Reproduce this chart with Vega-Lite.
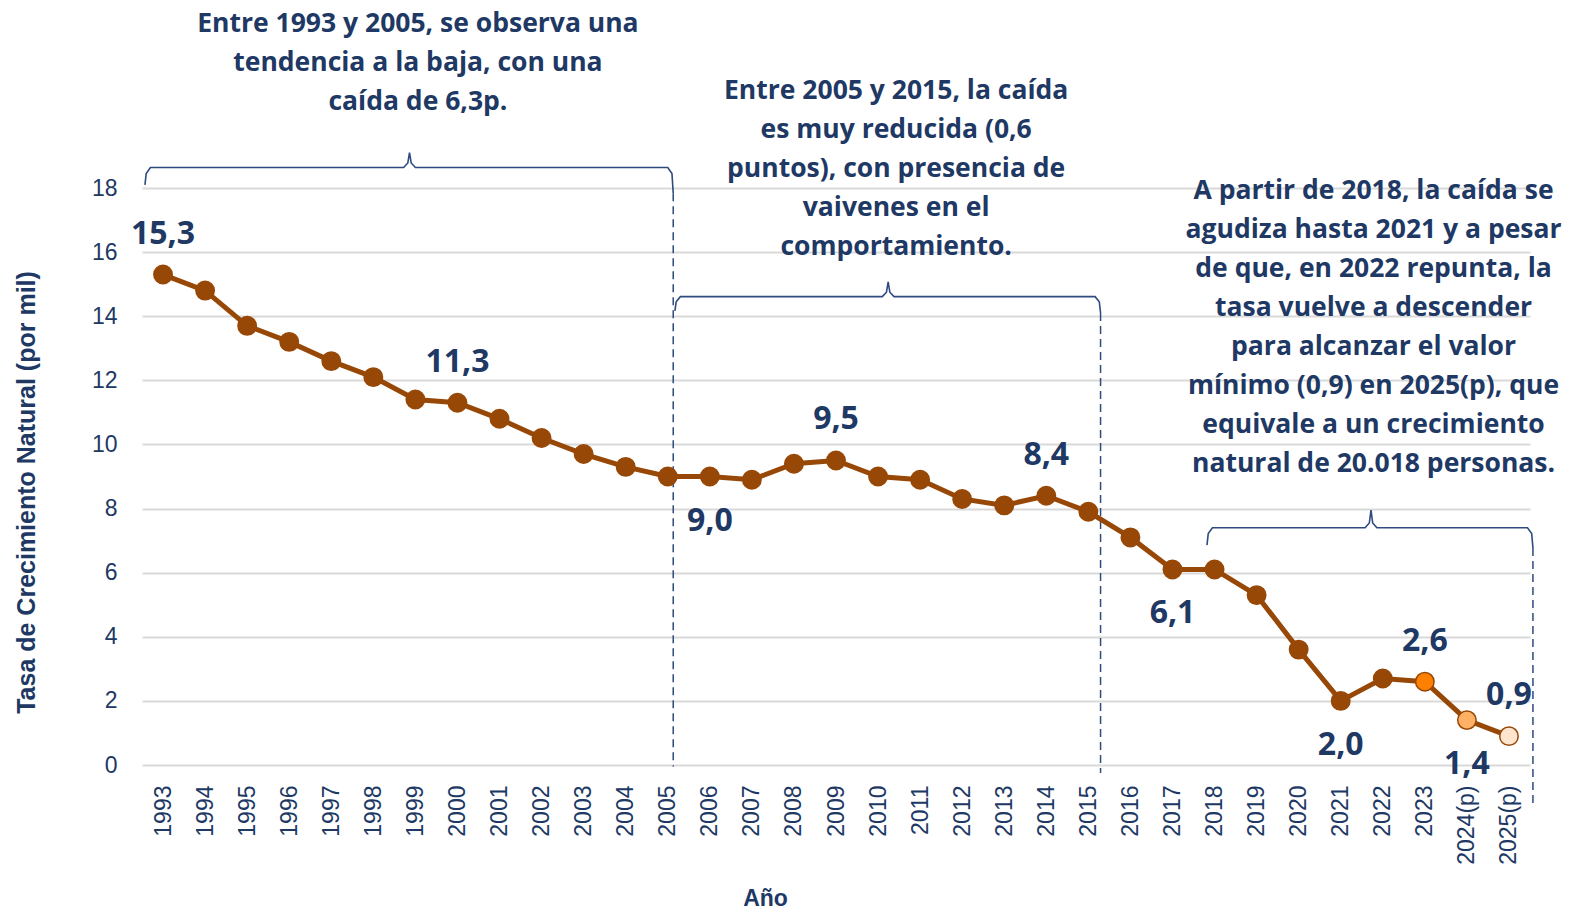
{
  "$schema": "https://vega.github.io/schema/vega-lite/v6.json",
  "width": 1388,
  "height": 577,
  "autosize": {"type": "none"},
  "padding": {"left": 142, "top": 188, "right": 40, "bottom": 146},
  "background": "white",
  "config": {
    "view": {"stroke": null},
    "locale": {"number": {"decimal": ",", "thousands": ".", "grouping": [3], "currency": ["", ""]}}
  },
  "datasets": {
    "tasa": [
      {"anio": 1993, "tasa": 15.3}, {"anio": 1994, "tasa": 14.8}, {"anio": 1995, "tasa": 13.7},
      {"anio": 1996, "tasa": 13.2}, {"anio": 1997, "tasa": 12.6}, {"anio": 1998, "tasa": 12.1},
      {"anio": 1999, "tasa": 11.4}, {"anio": 2000, "tasa": 11.3}, {"anio": 2001, "tasa": 10.8},
      {"anio": 2002, "tasa": 10.2}, {"anio": 2003, "tasa": 9.7}, {"anio": 2004, "tasa": 9.3},
      {"anio": 2005, "tasa": 9.0}, {"anio": 2006, "tasa": 9.0}, {"anio": 2007, "tasa": 8.9},
      {"anio": 2008, "tasa": 9.4}, {"anio": 2009, "tasa": 9.5}, {"anio": 2010, "tasa": 9.0},
      {"anio": 2011, "tasa": 8.9}, {"anio": 2012, "tasa": 8.3}, {"anio": 2013, "tasa": 8.1},
      {"anio": 2014, "tasa": 8.4}, {"anio": 2015, "tasa": 7.9}, {"anio": 2016, "tasa": 7.1},
      {"anio": 2017, "tasa": 6.1}, {"anio": 2018, "tasa": 6.1}, {"anio": 2019, "tasa": 5.3},
      {"anio": 2020, "tasa": 3.6}, {"anio": 2021, "tasa": 2.0}, {"anio": 2022, "tasa": 2.7},
      {"anio": 2023, "tasa": 2.6}, {"anio": 2024, "tasa": 1.4}, {"anio": 2025, "tasa": 0.9}
    ],
    "llaves": [
      {"grupo": "A", "orden": 1, "x": 1992.57, "y": 18.10},
      {"grupo": "A", "orden": 2, "x": 1992.60, "y": 18.45},
      {"grupo": "A", "orden": 3, "x": 1992.70, "y": 18.64},
      {"grupo": "A", "orden": 4, "x": 1998.72, "y": 18.64},
      {"grupo": "A", "orden": 5, "x": 1998.82, "y": 18.78},
      {"grupo": "A", "orden": 6, "x": 1998.86, "y": 19.10},
      {"grupo": "A", "orden": 7, "x": 1998.90, "y": 18.78},
      {"grupo": "A", "orden": 8, "x": 1999.00, "y": 18.64},
      {"grupo": "A", "orden": 9, "x": 2005.00, "y": 18.64},
      {"grupo": "A", "orden": 10, "x": 2005.10, "y": 18.45},
      {"grupo": "A", "orden": 11, "x": 2005.13, "y": 17.84},
      {"grupo": "B", "orden": 1, "x": 2005.17, "y": 14.17},
      {"grupo": "B", "orden": 2, "x": 2005.20, "y": 14.45},
      {"grupo": "B", "orden": 3, "x": 2005.30, "y": 14.61},
      {"grupo": "B", "orden": 4, "x": 2010.10, "y": 14.61},
      {"grupo": "B", "orden": 5, "x": 2010.20, "y": 14.75},
      {"grupo": "B", "orden": 6, "x": 2010.24, "y": 15.07},
      {"grupo": "B", "orden": 7, "x": 2010.28, "y": 14.75},
      {"grupo": "B", "orden": 8, "x": 2010.38, "y": 14.61},
      {"grupo": "B", "orden": 9, "x": 2015.16, "y": 14.61},
      {"grupo": "B", "orden": 10, "x": 2015.26, "y": 14.45},
      {"grupo": "B", "orden": 11, "x": 2015.29, "y": 14.10},
      {"grupo": "C", "orden": 1, "x": 2017.82, "y": 6.86},
      {"grupo": "C", "orden": 2, "x": 2017.85, "y": 7.22},
      {"grupo": "C", "orden": 3, "x": 2017.95, "y": 7.40},
      {"grupo": "C", "orden": 4, "x": 2021.58, "y": 7.40},
      {"grupo": "C", "orden": 5, "x": 2021.68, "y": 7.55},
      {"grupo": "C", "orden": 6, "x": 2021.72, "y": 7.95},
      {"grupo": "C", "orden": 7, "x": 2021.76, "y": 7.55},
      {"grupo": "C", "orden": 8, "x": 2021.86, "y": 7.40},
      {"grupo": "C", "orden": 9, "x": 2025.44, "y": 7.40},
      {"grupo": "C", "orden": 10, "x": 2025.54, "y": 7.22},
      {"grupo": "C", "orden": 11, "x": 2025.57, "y": 6.77}
    ],
    "divisiones": [
      {"x": 2005.13, "y": 17.84, "y2": -0.05},
      {"x": 2015.29, "y": 14.10, "y2": -0.25},
      {"x": 2025.57, "y": 6.77, "y2": -1.25}
    ],
    "notas": [
      {"x": 1999.06, "y": 22.87, "texto": ["Entre 1993 y 2005, se observa una", "tendencia a la baja, con una", "caída de 6,3p."]},
      {"x": 2010.43, "y": 20.79, "texto": ["Entre 2005 y 2015, la caída", "es muy reducida (0,6", "puntos), con presencia de", "vaivenes en el", "comportamiento."]},
      {"x": 2021.78, "y": 17.67, "texto": ["A partir de 2018, la caída se", "agudiza hasta 2021 y a pesar", "de que, en 2022 repunta, la", "tasa vuelve a descender", "para alcanzar el valor", "mínimo (0,9) en 2025(p), que", "equivale a un crecimiento", "natural de 20.018 personas."]}
    ]
  },
  "encoding": {
    "x": {
      "field": "anio", "type": "quantitative",
      "scale": {"domain": [1992.5, 2025.5], "nice": false, "zero": false},
      "axis": {
        "values": [1993,1994,1995,1996,1997,1998,1999,2000,2001,2002,2003,2004,2005,2006,2007,2008,2009,2010,2011,2012,2013,2014,2015,2016,2017,2018,2019,2020,2021,2022,2023,2024,2025],
        "format": "d",
        "labelExpr": "datum.value >= 2024 ? datum.label + '(p)' : datum.label",
        "labelAngle": -90,
        "labelFont": "Liberation Sans",
        "labelFontSize": 23,
        "labelColor": "#203864",
        "labelPadding": 20,
        "labelOverlap": false,
        "labelBound": false,
        "labelFlush": false,
        "ticks": false,
        "tickSize": 0,
        "domain": false,
        "grid": false,
        "title": "Año",
        "titleFont": "Liberation Sans",
        "titleFontSize": 23,
        "titleFontWeight": "bold",
        "titleColor": "#203864",
        "titleX": 623,
        "titleY": 140,
        "titleBaseline": "alphabetic",
        "titleAlign": "center"
      }
    },
    "y": {
      "field": "tasa", "type": "quantitative",
      "scale": {"domain": [0, 18], "nice": false},
      "axis": {
        "values": [0, 2, 4, 6, 8, 10, 12, 14, 16, 18],
        "labelFont": "Liberation Sans",
        "labelFontSize": 23,
        "labelColor": "#203864",
        "labelPadding": 25,
        "ticks": false,
        "tickSize": 0,
        "domain": false,
        "grid": true,
        "gridColor": "#D9D9D9",
        "gridWidth": 2,
        "title": "Tasa de Crecimiento Natural (por mil)",
        "titleFont": "Liberation Sans",
        "titleFontSize": 25,
        "titleFontWeight": "bold",
        "titleColor": "#203864",
        "titleAngle": -90,
        "titleX": -103,
        "titleY": 304,
        "titleAlign": "center",
        "titleBaseline": "bottom"
      }
    }
  },
  "layer": [
    {
      "data": {"name": "divisiones"},
      "mark": {"type": "rule", "color": "#2F4A7E", "strokeWidth": 1.5, "strokeDash": [8, 5]},
      "encoding": {
        "x": {"field": "x", "type": "quantitative"},
        "y": {"field": "y", "type": "quantitative"},
        "y2": {"field": "y2"}
      }
    },
    {
      "data": {"name": "llaves"},
      "mark": {"type": "line", "color": "#2F4A7E", "strokeWidth": 1.6},
      "encoding": {
        "x": {"field": "x", "type": "quantitative"},
        "y": {"field": "y", "type": "quantitative"},
        "detail": {"field": "grupo"},
        "order": {"field": "orden", "type": "quantitative"}
      }
    },
    {
      "data": {"name": "tasa"},
      "mark": {"type": "line", "color": "#984806", "strokeWidth": 5}
    },
    {
      "data": {"name": "tasa"},
      "mark": {"type": "circle", "size": 340, "opacity": 1, "stroke": "#984806", "strokeWidth": 1.5},
      "encoding": {
        "fill": {
          "condition": [
            {"test": "datum.anio == 2023", "value": "#FF8000"},
            {"test": "datum.anio == 2024", "value": "#FFB266"},
            {"test": "datum.anio == 2025", "value": "#FDE5CF"}
          ],
          "value": "#984806"
        }
      }
    },
    {
      "data": {"name": "tasa"},
      "transform": [{"filter": {"field": "anio", "oneOf": [1993, 2000, 2009, 2014, 2023, 2025]}}],
      "mark": {"type": "text", "font": "Open Sans", "fontWeight": "bold", "fontSize": 32, "color": "#203864", "baseline": "middle", "align": "center", "dy": -41},
      "encoding": {
        "text": {"field": "tasa", "type": "quantitative", "format": ".1f"}
      }
    },
    {
      "data": {"name": "tasa"},
      "transform": [{"filter": {"field": "anio", "oneOf": [2006, 2017, 2021, 2024]}}],
      "mark": {"type": "text", "font": "Open Sans", "fontWeight": "bold", "fontSize": 32, "color": "#203864", "baseline": "middle", "align": "center", "dy": 44},
      "encoding": {
        "text": {"field": "tasa", "type": "quantitative", "format": ".1f"}
      }
    },
    {
      "data": {"name": "notas"},
      "mark": {"type": "text", "font": "Open Sans", "fontWeight": "bold", "fontSize": 26.5, "lineHeight": 39, "color": "#203864", "baseline": "alphabetic", "align": "center"},
      "encoding": {
        "x": {"field": "x", "type": "quantitative"},
        "y": {"field": "y", "type": "quantitative"},
        "text": {"field": "texto"}
      }
    }
  ]
}
